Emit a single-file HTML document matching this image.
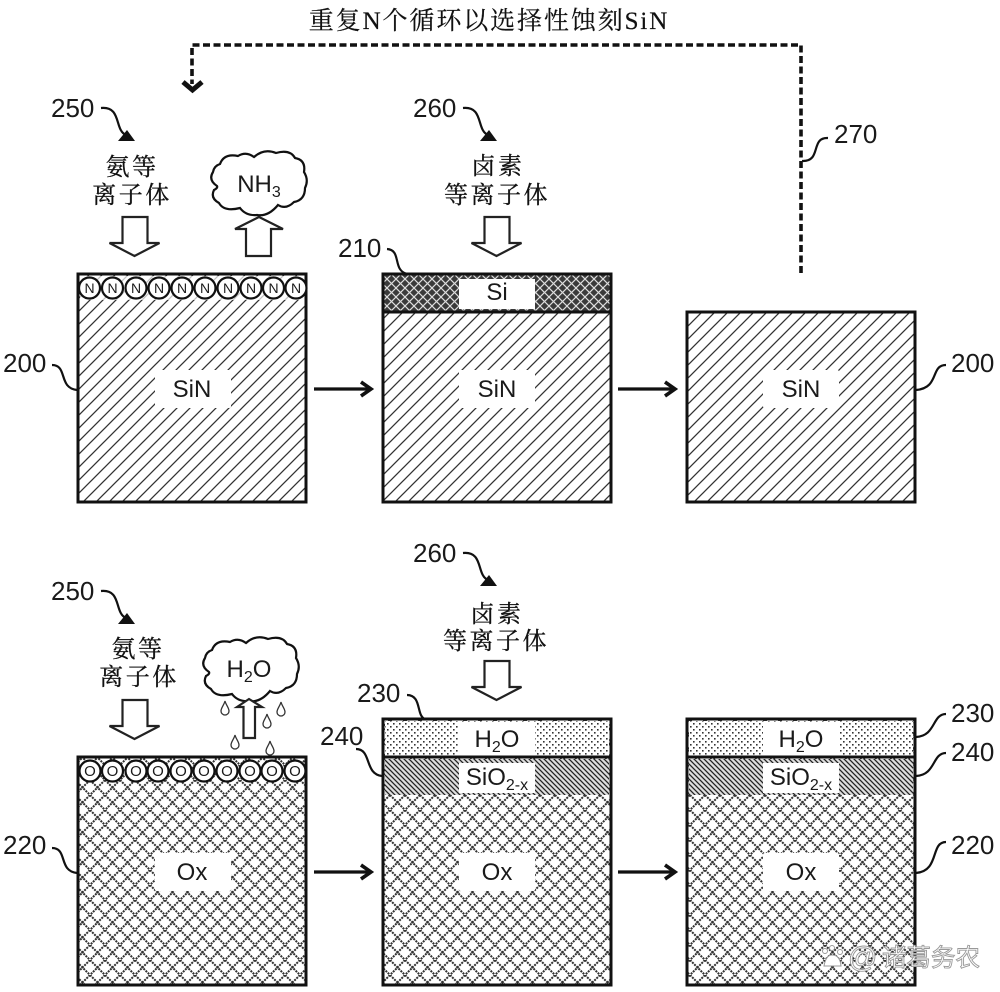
<!DOCTYPE html>
<html><head><meta charset="utf-8"><style>
html,body{margin:0;padding:0;background:#fff}
svg{display:block}
.n{font-family:"Liberation Sans",sans-serif;font-size:26px;fill:#1a1a1a}
.l{font-family:"Liberation Sans",sans-serif;font-size:24px;fill:#1a1a1a;text-anchor:middle}
.c{font-family:"Liberation Serif","Noto Serif CJK SC",serif;font-size:24px;fill:#111;stroke:#111;stroke-width:.3;text-anchor:middle;letter-spacing:2.5px}
.s{font-size:16px}
</style></head><body>
<svg width="1000" height="992" viewBox="0 0 1000 992" xmlns="http://www.w3.org/2000/svg">
<defs>
<pattern id="h" width="13" height="13" patternUnits="userSpaceOnUse"><path d="M-2,15 L15,-2 M-2,2 L2,-2 M11,15 L15,11" stroke="#333" stroke-width="1.3" fill="none"/></pattern>
<pattern id="x" width="15" height="15" patternUnits="userSpaceOnUse"><path d="M0,0 L15,15 M15,0 L0,15" stroke="#333" stroke-width="2" stroke-dasharray="2 1" fill="none"/></pattern>
<pattern id="si" width="9" height="9" patternUnits="userSpaceOnUse"><rect width="9" height="9" fill="#3a3a3a"/><path d="M0,0 L9,9 M9,0 L0,9" stroke="#ddd" stroke-width="1.2" fill="none"/></pattern>
<pattern id="d" width="6" height="6" patternUnits="userSpaceOnUse"><rect x="0" y="0" width="1.6" height="1.6" fill="#333"/><rect x="3" y="3" width="1.6" height="1.6" fill="#333"/></pattern>
<pattern id="o" width="5" height="5" patternUnits="userSpaceOnUse"><rect width="5" height="5" fill="#ddd"/><path d="M0,0 L5,5 M-1,4 L1,6 M4,-1 L6,1" stroke="#222" stroke-width="1.3" fill="none"/></pattern>
<g id="cloud"><path d="M10,14 Q14,3 28,6 Q36,1 44,7 Q54,-2 66,3 Q80,-1 85,8 Q96,10 94,22 Q99,30 95,38 Q95,50 84,52 Q76,60 68,55 Q58,67 47,65 Q36,66 30,58 Q14,62 9,53 Q0,48 4,40 Q8,38 7,36 Q-2,30 3,22 Q4,16 10,14 Z" fill="#fff" stroke="#111" stroke-width="2.2"/></g>
<path id="down" d="M-12,0 H13 V26 H25 L0,39 L-25,26 H-12 Z" fill="#fff" stroke="#222" stroke-width="2.2"/>
<g id="drop"><path d="M0,-9 C1,-5 4,-2 4,1 A4,4 0 0 1 -4,1 C-4,-2 -1,-5 0,-9 Z" fill="#fff" stroke="#333" stroke-width="1.3"/></g>
<g id="ar"><path d="M0,0 H55" stroke="#111" stroke-width="3.2" fill="none"/><path d="M47,-7 L57,0 L47,7" stroke="#111" stroke-width="3.6" fill="none"/></g>
<rect id="lb" width="76" height="38" rx="2" fill="#fff"/>
</defs>

<text x="489" y="29" class="c" style="font-size:25px;letter-spacing:1.9px;stroke-width:.2">重复N个循环以选择性蚀刻SiN</text>
<path d="M801,273 V45 H192 V84" fill="none" stroke="#111" stroke-width="3.6" stroke-dasharray="7 3.5"/>
<path d="M183,82 L192.500,90 L202,82" fill="none" stroke="#111" stroke-width="5"/>

<!-- Top row boxes -->
<rect x="78" y="274" width="228" height="228" fill="url(#h)" stroke="#111" stroke-width="3"/>
<rect x="80" y="276" width="224" height="24" fill="#fff" opacity=".7"/>
<rect x="383" y="312" width="228" height="190" fill="url(#h)" stroke="#111" stroke-width="3"/>
<rect x="383" y="274" width="228" height="38" fill="url(#si)" stroke="#111" stroke-width="3"/>
<rect x="459" y="279" width="76" height="30" fill="#fff"/>
<rect x="687" y="312" width="228" height="190" fill="url(#h)" stroke="#111" stroke-width="3"/>
<use href="#lb" x="155" y="370"/><use href="#lb" x="459" y="370"/><use href="#lb" x="763" y="370"/>
<text x="192" y="397" class="l">SiN</text><text x="497" y="397" class="l">SiN</text><text x="801" y="397" class="l">SiN</text>
<text x="497" y="300" class="l">Si</text>

<g fill="#fff" stroke="#111" stroke-width="2.2">
<circle cx="89.5" cy="288" r="10.5"/><circle cx="112.5" cy="288" r="10.5"/><circle cx="136" cy="288" r="10.5"/><circle cx="159" cy="288" r="10.5"/><circle cx="182" cy="288" r="10.5"/><circle cx="205" cy="288" r="10.5"/><circle cx="228" cy="288" r="10.5"/><circle cx="251" cy="288" r="10.5"/><circle cx="273.5" cy="288" r="10.5"/><circle cx="296" cy="288" r="10.5"/>
</g>
<g>
<text class="l" style="font-size:14px" x="89.5" y="293">N</text><text class="l" style="font-size:14px" x="112.5" y="293">N</text><text class="l" style="font-size:14px" x="136" y="293">N</text><text class="l" style="font-size:14px" x="159" y="293">N</text><text class="l" style="font-size:14px" x="182" y="293">N</text><text class="l" style="font-size:14px" x="205" y="293">N</text><text class="l" style="font-size:14px" x="228" y="293">N</text><text class="l" style="font-size:14px" x="251" y="293">N</text><text class="l" style="font-size:14px" x="273.5" y="293">N</text><text class="l" style="font-size:14px" x="296" y="293">N</text>
</g>

<!-- Bottom row boxes -->
<rect x="78" y="757" width="228" height="228" fill="url(#x)" stroke="#111" stroke-width="3"/>
<rect x="383" y="719" width="228" height="266" fill="url(#x)" stroke="#111" stroke-width="3"/>
<rect x="385" y="721" width="224" height="36" fill="#fff"/><rect x="385" y="721" width="224" height="36" fill="url(#d)"/>
<rect x="385" y="759" width="224" height="36" fill="url(#o)"/>
<path d="M383,757 H611" stroke="#111" stroke-width="3"/>
<rect x="687" y="719" width="228" height="266" fill="url(#x)" stroke="#111" stroke-width="3"/>
<rect x="689" y="721" width="224" height="36" fill="#fff"/><rect x="689" y="721" width="224" height="36" fill="url(#d)"/>
<rect x="689" y="759" width="224" height="36" fill="url(#o)"/>
<path d="M687,757 H915" stroke="#111" stroke-width="3"/>
<rect x="459" y="722" width="76" height="33" fill="#fff"/><rect x="459" y="763" width="76" height="30" fill="#fff"/>
<rect x="763" y="722" width="76" height="33" fill="#fff"/><rect x="763" y="763" width="76" height="30" fill="#fff"/>
<use href="#lb" x="155" y="853"/><use href="#lb" x="459" y="853"/><use href="#lb" x="763" y="853"/>
<text x="192" y="880" class="l">Ox</text><text x="497" y="880" class="l">Ox</text><text x="801" y="880" class="l">Ox</text>
<text x="497" y="747" class="l">H<tspan class="s" dy="5">2</tspan><tspan dy="-5">O</tspan></text>
<text x="801" y="747" class="l">H<tspan class="s" dy="5">2</tspan><tspan dy="-5">O</tspan></text>
<text x="497" y="785" class="l">SiO<tspan class="s" dy="5">2-x</tspan></text>
<text x="801" y="785" class="l">SiO<tspan class="s" dy="5">2-x</tspan></text>

<g fill="#fff" stroke="#111" stroke-width="2.2">
<circle cx="90" cy="771" r="10.5"/><circle cx="112.5" cy="771" r="10.5"/><circle cx="136" cy="771" r="10.5"/><circle cx="158" cy="771" r="10.5"/><circle cx="181" cy="771" r="10.5"/><circle cx="204" cy="771" r="10.5"/><circle cx="227" cy="771" r="10.5"/><circle cx="250" cy="771" r="10.5"/><circle cx="272" cy="771" r="10.5"/><circle cx="295" cy="771" r="10.5"/>
</g>
<text class="l" style="font-size:15px" x="90" y="776">O</text><text class="l" style="font-size:15px" x="112.5" y="776">O</text><text class="l" style="font-size:15px" x="136" y="776">O</text><text class="l" style="font-size:15px" x="158" y="776">O</text><text class="l" style="font-size:15px" x="181" y="776">O</text><text class="l" style="font-size:15px" x="204" y="776">O</text><text class="l" style="font-size:15px" x="227" y="776">O</text><text class="l" style="font-size:15px" x="250" y="776">O</text><text class="l" style="font-size:15px" x="272" y="776">O</text><text class="l" style="font-size:15px" x="295" y="776">O</text>

<!-- Process arrows -->
<use href="#ar" x="314" y="389"/><use href="#ar" x="618" y="389"/><use href="#ar" x="314" y="872"/><use href="#ar" x="618" y="872"/>

<!-- Block arrows -->
<use href="#down" x="134.5" y="217"/><use href="#down" x="496.5" y="217"/><use href="#down" x="134.5" y="700"/><use href="#down" x="496.5" y="661"/>
<path d="M246,256 H271 V229 H283 L259,217 L235,229 H246 Z" fill="#fff" stroke="#222" stroke-width="2.2"/>

<!-- Clouds -->
<use href="#cloud" x="210" y="150"/>
<text x="259" y="192" class="l">NH<tspan class="s" dy="5">3</tspan></text>
<use href="#cloud" x="202" y="636"/>
<text x="249" y="677" class="l">H<tspan class="s" dy="5">2</tspan><tspan dy="-5">O</tspan></text>
<path d="M243.500,738 H255 V707 H262 L249,699 L237,707 H243.500 Z" fill="#fff" stroke="#222" stroke-width="2.2"/>
<use href="#drop" x="225" y="710"/><use href="#drop" x="281" y="711"/><use href="#drop" x="267" y="723"/><use href="#drop" x="235" y="744"/><use href="#drop" x="270" y="750"/>

<!-- Chinese labels -->
<text x="132" y="175" class="c">氨等</text><text x="132" y="203" class="c">离子体</text>
<text x="138" y="657" class="c">氨等</text><text x="139" y="685" class="c">离子体</text>
<text x="498" y="174" class="c">卤素</text><text x="497" y="203" class="c">等离子体</text>
<text x="497" y="622" class="c">卤素</text><text x="496" y="649" class="c">等离子体</text>

<!-- Reference numbers -->
<text x="51" y="117" class="n">250</text><text x="413" y="117" class="n">260</text><text x="834" y="143" class="n">270</text>
<text x="338" y="257" class="n">210</text><text x="3" y="372" class="n">200</text><text x="951" y="372" class="n">200</text>
<text x="413" y="562" class="n">260</text><text x="51" y="600" class="n">250</text>
<text x="357" y="702" class="n">230</text><text x="951" y="722" class="n">230</text>
<text x="320" y="745" class="n">240</text><text x="951" y="761" class="n">240</text>
<text x="3" y="854" class="n">220</text><text x="951" y="854" class="n">220</text>

<!-- Leaders -->
<g fill="none" stroke="#111" stroke-width="2.2">
<path d="M101,108 C122,106 114,130 126,135"/>
<path d="M463,108 C484,106 476,130 488,135"/>
<path d="M463,553 C484,551 476,575 488,580"/>
<path d="M101,591 C122,589 114,613 126,618"/>
<path d="M828,138 C810,137 822,162 802,161"/>
<path d="M387,249 C402,250 392,270 407,274"/>
<path d="M52,365 C68,365 58,388 77,390"/>
<path d="M946,365 C930,365 940,388 916,390"/>
<path d="M407,695 C422,695 416,716 425,719"/>
<path d="M946,714 C932,714 936,736 916,737"/>
<path d="M356,749 C372,749 364,774 382,776"/>
<path d="M946,753 C932,753 936,775 916,776"/>
<path d="M52,848 C68,848 58,871 77,873"/>
<path d="M946,842 C930,842 940,871 916,873"/>
</g>
<g fill="#111">
<path d="M118,141 L135,141 L127,130 Z"/><path d="M480,141 L497,141 L489,130 Z"/><path d="M480,586 L497,586 L489,575 Z"/><path d="M118,624 L135,624 L127,613 Z"/>
</g>

<!-- Watermark -->
<text x="848" y="967" style="font-family:'Liberation Sans',sans-serif;font-size:29px;fill:#fff;stroke:#999;stroke-width:.9">@</text>
<text x="882" y="966" style="font-family:'Noto Sans CJK SC',sans-serif;font-size:24.500px;fill:#fff;stroke:#999;stroke-width:.9">诸葛务农</text>
<g fill="#fff" stroke="#999" stroke-width="1"><circle cx="825" cy="951" r="2.5"/><circle cx="832" cy="948" r="2.500"/><circle cx="840" cy="952" r="2.500"/><path d="M824,966 Q826,955 832,955 Q840,955 841,966 Z"/></g>
</svg>
</body></html>
